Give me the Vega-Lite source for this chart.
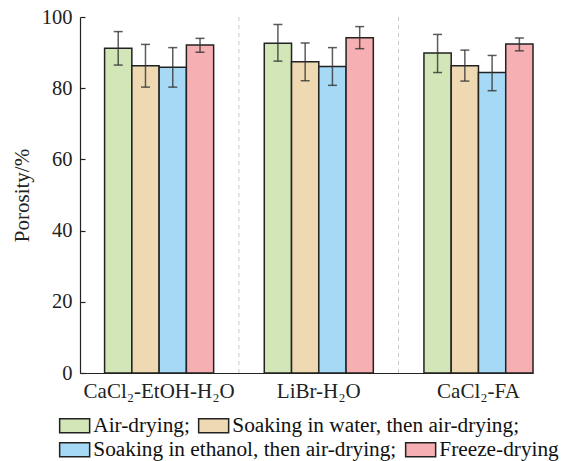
{
  "$schema": "https://vega.github.io/schema/vega-lite/v6.json",
  "width": 453,
  "height": 356,
  "autosize": "none",
  "padding": {"left": 80, "top": 17, "right": 32, "bottom": 88},
  "background": "white",
  "config": {
    "font": "Liberation Serif",
    "view": {"stroke": null},
    "axis": {"labelFont": "Liberation Serif", "titleFont": "Liberation Serif", "labelColor": "#222", "titleColor": "#222", "domainColor": "#222", "tickColor": "#222", "grid": false},
    "legend": {
      "title": null,
      "orient": "none",
      "direction": "horizontal",
      "symbolType": "M-2,-0.93H2V0.93H-2Z",
      "symbolSize": 225,
      "symbolStrokeColor": "#222",
      "symbolStrokeWidth": 1.5,
      "symbolOpacity": 1,
      "labelFont": "Liberation Serif",
      "labelFontSize": 21.3,
      "labelColor": "#111",
      "labelOffset": 8,
      "labelLimit": 400,
      "columnPadding": 5,
      "padding": 0
    }
  },
  "datasets": {
    "bars": [
      {"group": "CaCl₂-EtOH-H₂O", "method": "Air-drying", "porosity": 91.2, "lo": 86.5, "hi": 95.9},
      {"group": "CaCl₂-EtOH-H₂O", "method": "Soaking in water, then air-drying", "porosity": 86.3, "lo": 80.3, "hi": 92.3},
      {"group": "CaCl₂-EtOH-H₂O", "method": "Soaking in ethanol, then air-drying", "porosity": 85.9, "lo": 80.3, "hi": 91.4},
      {"group": "CaCl₂-EtOH-H₂O", "method": "Freeze-drying", "porosity": 92.1, "lo": 90.1, "hi": 94.0},
      {"group": "LiBr-H₂O", "method": "Air-drying", "porosity": 92.6, "lo": 87.6, "hi": 97.9},
      {"group": "LiBr-H₂O", "method": "Soaking in water, then air-drying", "porosity": 87.4, "lo": 82.1, "hi": 92.7},
      {"group": "LiBr-H₂O", "method": "Soaking in ethanol, then air-drying", "porosity": 86.1, "lo": 80.8, "hi": 91.4},
      {"group": "LiBr-H₂O", "method": "Freeze-drying", "porosity": 94.2, "lo": 91.1, "hi": 97.3},
      {"group": "CaCl₂-FA", "method": "Air-drying", "porosity": 89.9, "lo": 84.4, "hi": 95.1},
      {"group": "CaCl₂-FA", "method": "Soaking in water, then air-drying", "porosity": 86.3, "lo": 82.0, "hi": 90.7},
      {"group": "CaCl₂-FA", "method": "Soaking in ethanol, then air-drying", "porosity": 84.4, "lo": 79.3, "hi": 89.2},
      {"group": "CaCl₂-FA", "method": "Freeze-drying", "porosity": 92.4, "lo": 90.5, "hi": 94.1}
    ],
    "seps": [
      {"group": "LiBr-H₂O", "from": 0, "to": 100},
      {"group": "CaCl₂-FA", "from": 0, "to": 100}
    ]
  },
  "resolve": {"scale": {"color": "independent"}, "legend": {"color": "independent"}},
  "encoding": {
    "x": {
      "field": "group",
      "type": "nominal",
      "scale": {"type": "band", "domain": ["CaCl₂-EtOH-H₂O", "LiBr-H₂O", "CaCl₂-FA"], "paddingInner": 0.317, "paddingOuter": 0.077, "align": 1},
      "axis": {"title": null, "labelAngle": 0, "ticks": false, "labelFontSize": 21, "labelPadding": 7, "domainWidth": 1.2}
    }
  },
  "layer": [
    {
      "data": {"name": "seps"},
      "mark": {"type": "rule", "color": "#c8c8c8", "strokeDash": [4, 4], "strokeWidth": 1},
      "encoding": {
        "x": {"field": "group", "type": "nominal", "bandPosition": -0.2326},
        "y": {"field": "from", "type": "quantitative"},
        "y2": {"field": "to"}
      }
    },
    {
      "data": {"name": "bars"},
      "mark": {"type": "bar", "opacity": 0},
      "encoding": {
        "xOffset": {"field": "method", "type": "nominal"},
        "y": {"field": "porosity", "type": "quantitative"},
        "color": {
          "field": "method",
          "type": "nominal",
          "scale": {"domain": ["Air-drying", "Soaking in water, then air-drying", "Soaking in ethanol, then air-drying", "Freeze-drying"], "range": ["#d2e6b8", "#efd9b3", "#a6d9f5", "#f6afb2"]},
          "legend": {
            "values": ["Soaking in ethanol, then air-drying", "Freeze-drying"],
            "legendX": -16,
            "legendY": 422,
            "symbolOpacity": 1,
            "labelExpr": "datum.label == 'Freeze-drying' ? datum.label : datum.label + ';'"
          }
        }
      }
    },
    {
      "data": {"name": "bars"},
      "mark": {"type": "bar", "stroke": "#222", "strokeWidth": 1.5, "opacity": 1},
      "encoding": {
        "xOffset": {"field": "method", "type": "nominal", "scale": {"domain": ["Air-drying", "Soaking in water, then air-drying", "Soaking in ethanol, then air-drying", "Freeze-drying"], "paddingInner": 0, "paddingOuter": 0}},
        "y": {
          "field": "porosity",
          "type": "quantitative",
          "scale": {"domain": [0, 100], "nice": false},
          "axis": {"title": "Porosity/%", "titleFontSize": 21, "titleFontWeight": "normal", "titlePadding": 9, "values": [0, 20, 40, 60, 80, 100], "labelFontSize": 20.5, "tickSize": -5, "labelPadding": 13, "domainWidth": 1.2, "tickWidth": 1.2}
        },
        "color": {
          "field": "method",
          "type": "nominal",
          "scale": {"domain": ["Air-drying", "Soaking in water, then air-drying", "Soaking in ethanol, then air-drying", "Freeze-drying"], "range": ["#d2e6b8", "#efd9b3", "#a6d9f5", "#f6afb2"]},
          "legend": {
            "values": ["Air-drying", "Soaking in water, then air-drying"],
            "legendX": -16,
            "legendY": 398,
            "labelExpr": "datum.label + ';'"
          }
        }
      }
    },
    {
      "data": {"name": "bars"},
      "mark": {"type": "rule", "color": "#333", "strokeWidth": 1.5, "opacity": 0.8},
      "encoding": {
        "xOffset": {"field": "method", "type": "nominal"},
        "y": {"field": "lo", "type": "quantitative"},
        "y2": {"field": "hi"}
      }
    },
    {
      "data": {"name": "bars"},
      "mark": {"type": "tick", "color": "#333", "thickness": 1.5, "size": 9, "opacity": 0.8},
      "encoding": {
        "xOffset": {"field": "method", "type": "nominal"},
        "y": {"field": "lo", "type": "quantitative"}
      }
    },
    {
      "data": {"name": "bars"},
      "mark": {"type": "tick", "color": "#333", "thickness": 1.5, "size": 9, "opacity": 0.8},
      "encoding": {
        "xOffset": {"field": "method", "type": "nominal"},
        "y": {"field": "hi", "type": "quantitative"}
      }
    }
  ]
}
